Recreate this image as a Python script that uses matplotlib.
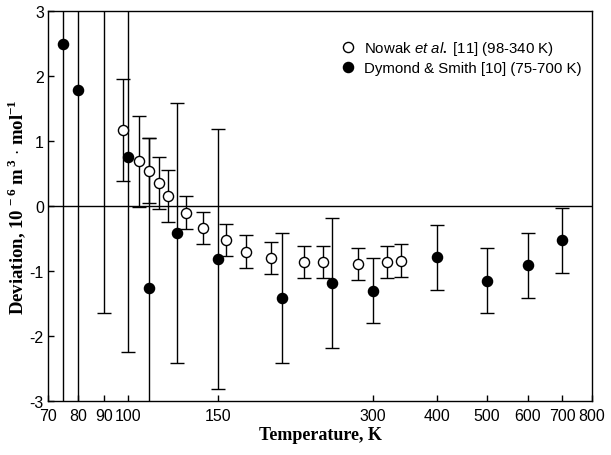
import numpy as np
import matplotlib.pyplot as plt
from matplotlib.ticker import NullLocator

plt.rcParams['font.family'] = 'Liberation Sans'
plt.rcParams['mathtext.fontset'] = 'custom'
plt.rcParams['mathtext.rm'] = 'Liberation Serif:bold'
plt.rcParams['mathtext.it'] = 'Liberation Sans:italic'

# Nowak et al. [11]
nowak_T = [98, 105, 110, 115, 120, 130, 140, 155, 170, 190, 220, 240, 280, 320, 340]
nowak_dev = [1.17, 0.69, 0.54, 0.35, 0.15, -0.10, -0.34, -0.52, -0.70, -0.80,
             -0.86, -0.86, -0.89, -0.86, -0.84]
nowak_err = [0.79, 0.70, 0.50, 0.40, 0.40, 0.25, 0.25, 0.25, 0.25, 0.25,
             0.25, 0.25, 0.25, 0.25, 0.25]

# Dymond & Smith [10]
dym_T = [75, 80, 90, 100, 110, 125, 150, 200, 250, 300, 400, 500, 600, 700]
dym_dev = [2.50, 1.78, 4.0, 0.76, -1.26, -0.42, -0.82, -1.42, -1.19, -1.30,
           -0.79, -1.15, -0.91, -0.53]
dym_err = [10, 10, 5.65, 3.0, 2.3, 2.0, 2.0, 1.0, 1.0, 0.5, 0.5, 0.5, 0.5, 0.5]

xticks = [70, 80, 90, 100, 150, 300, 400, 500, 600, 700, 800]
yticks = [-3, -2, -1, 0, 1, 2, 3]

fig = plt.figure(figsize=(6.11, 4.56), dpi=100)
ax = fig.add_axes([48 / 611, 1 - 402 / 456, 544 / 611, 390 / 456])

ax.axhline(0, color='black', lw=1, zorder=1)

ax.errorbar(dym_T, dym_dev, yerr=dym_err, fmt='none', ecolor='black',
            elinewidth=1, capsize=5, capthick=1, zorder=2)
ax.errorbar(nowak_T, nowak_dev, yerr=nowak_err, fmt='o', ms=7.3, mfc='white',
            mec='black', mew=1, ecolor='black', elinewidth=1, capsize=5,
            capthick=1, zorder=3)
ax.plot(dym_T, dym_dev, 'o', ms=7.3, color='black', zorder=4)

h1, = ax.plot([], [], 'o', ms=7.3, mfc='white', mec='black', mew=1)
h2, = ax.plot([], [], 'o', ms=7.3, color='black')
ax.legend([h1, h2], [r'Nowak $\mathit{et\ al.}$ [11] (98-340 K)',
                     'Dymond & Smith [10] (75-700 K)'],
          loc='upper left', bbox_to_anchor=(0.512, 0.962), frameon=False,
          fontsize=10.8, handlelength=1.0, handletextpad=0.6, labelspacing=0.25,
          borderpad=0.4)

ax.set_xscale('log')
ax.set_xlim(70, 800)
ax.set_ylim(-3, 3)
ax.set_xticks(xticks)
ax.set_xticklabels([str(t) for t in xticks])
ax.xaxis.set_minor_locator(NullLocator())
ax.set_yticks(yticks)
ax.set_yticklabels([str(t) for t in yticks])
ax.tick_params(direction='in', length=4, labelsize=11.5, width=1)
ax.tick_params(axis='x', pad=5)
ax.tick_params(axis='y', pad=3)
for s in ax.spines.values():
    s.set_linewidth(1)

ax.set_xlabel('Temperature, K', fontfamily='Liberation Serif',
              fontweight='bold', fontsize=13, labelpad=2)
ax.set_ylabel(r'Deviation, 10$^{\,-6}$ m$^{\,3}$ $\cdot$ mol$^{-1}$',
              fontfamily='Liberation Serif', fontweight='bold', fontsize=13.5,
              labelpad=1)

fig.savefig('out.png', dpi=100)
